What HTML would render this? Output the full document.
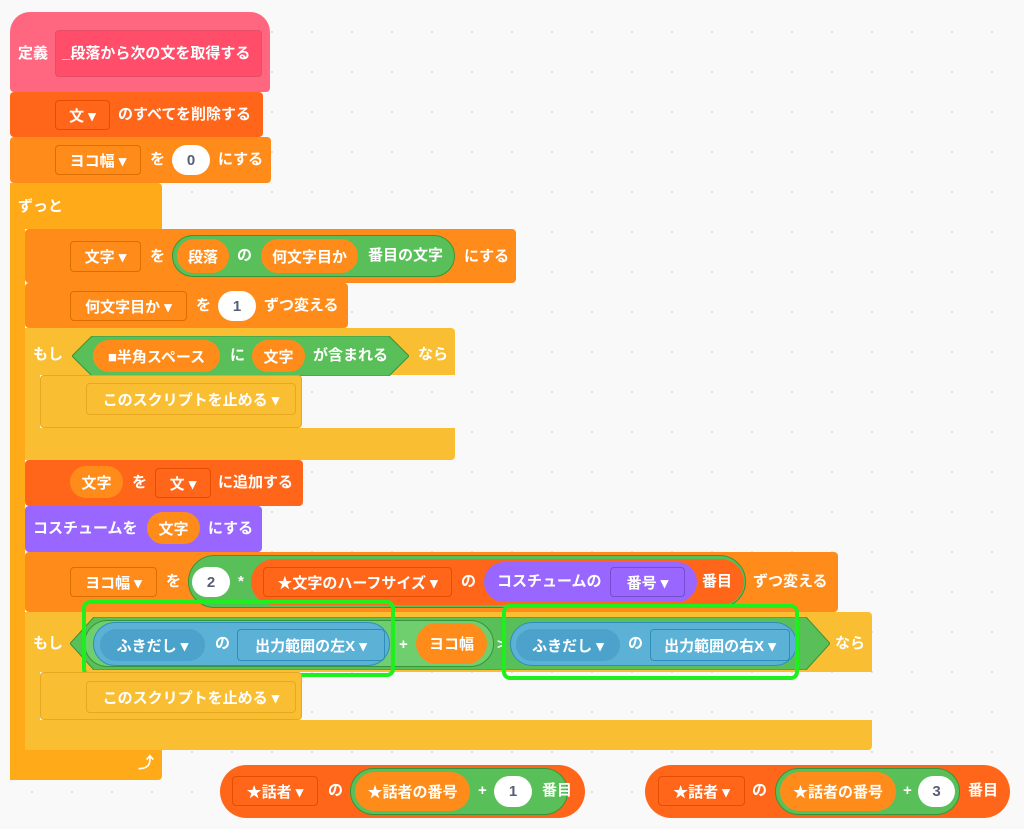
<!DOCTYPE html><html><head><meta charset="utf-8"><style>
body{margin:0;width:1024px;height:829px;overflow:hidden;background:#f9f9f9;background-image:radial-gradient(#dcdcdc 1px,transparent 1.2px);background-size:40px 40px;background-position:12px 12px;position:relative;font-family:"Liberation Sans","Noto Sans CJK JP",sans-serif}
div{position:absolute;box-sizing:border-box}
.t{color:#fff;font-weight:bold;font-size:15px;line-height:18px;white-space:nowrap}
.dd{border-radius:4px;display:flex;align-items:center;justify-content:center;color:#fff;font-weight:bold;font-size:15px;white-space:nowrap}
.ov{background:#fff;border-radius:20px;display:flex;align-items:center;justify-content:center;color:#575e75;font-weight:bold;font-size:15px}
.pill{border-radius:30px;display:flex;align-items:center;justify-content:center;color:#fff;font-weight:bold;font-size:15px;white-space:nowrap}
.hl{border:4px solid #1ef01e;border-radius:8px}
</style></head><body>
<!-- define -->
<div style="left:10px;top:12px;width:260px;height:80px;background:#ff6680;border-radius:20px 20px 4px 4px"></div>
<div style="left:55px;top:30px;width:207px;height:47px;background:#ff4d6a;border-radius:4px;border:1px solid #e64d66"></div>
<div class="t" style="left:18px;top:45px">定義</div>
<div class="t" style="left:62px;top:45px">_段落から次の文を取得する</div>
<!-- delete -->
<div style="left:10px;top:92px;width:253px;height:45px;background:#ff661a;border-radius:4px"></div>
<div class="dd" style="left:55px;top:100px;width:55px;height:30px;border:1px solid #e64d00">文 ▾</div>
<div class="t" style="left:118px;top:106px">のすべてを削除する</div>
<!-- set yoko -->
<div style="left:10px;top:137px;width:261px;height:46px;background:#ff8c1a;border-radius:4px"></div>
<div class="dd" style="left:55px;top:145px;width:86px;height:30px;border:1px solid #db6e00">ヨコ幅 ▾</div>
<div class="t" style="left:150px;top:151px">を</div>
<div class="ov" style="left:172px;top:145px;width:38px;height:30px">0</div>
<div class="t" style="left:218px;top:151px">にする</div>
<!-- forever -->
<div style="left:10px;top:183px;width:152px;height:46px;background:#ffab19;border-radius:4px 4px 0 0"></div>
<div style="left:10px;top:183px;width:15px;height:597px;background:#ffab19"></div>
<div style="left:10px;top:750px;width:152px;height:30px;background:#ffab19;border-radius:0 0 4px 4px"></div>
<div class="t" style="left:18px;top:198px">ずっと</div>
<div class="t" style="left:138px;top:755px;font-size:16px">⤴</div>
<!-- set moji -->
<div style="left:25px;top:229px;width:491px;height:54px;background:#ff8c1a;border-radius:4px"></div>
<div class="dd" style="left:70px;top:241px;width:71px;height:31px;border:1px solid #db6e00">文字 ▾</div>
<div class="t" style="left:150px;top:248px">を</div>
<div class="pill" style="left:172px;top:235px;width:283px;height:42px;background:#59c059;border:1px solid #389438"></div>
<div class="pill" style="left:177px;top:239px;width:52px;height:34px;background:#ff8c1a">段落</div>
<div class="t" style="left:237px;top:247px">の</div>
<div class="pill" style="left:261px;top:239px;width:97px;height:34px;background:#ff8c1a">何文字目か</div>
<div class="t" style="left:368px;top:247px">番目の文字</div>
<div class="t" style="left:464px;top:248px">にする</div>
<!-- change -->
<div style="left:25px;top:283px;width:323px;height:45px;background:#ff8c1a;border-radius:4px"></div>
<div class="dd" style="left:70px;top:291px;width:117px;height:30px;border:1px solid #db6e00">何文字目か ▾</div>
<div class="t" style="left:196px;top:297px">を</div>
<div class="ov" style="left:218px;top:291px;width:38px;height:30px">1</div>
<div class="t" style="left:264px;top:297px">ずつ変える</div>
<!-- if1 -->
<div style="left:25px;top:328px;width:430px;height:47px;background:#fabe32;border-radius:4px 4px 0 0"></div>
<div style="left:25px;top:328px;width:15px;height:132px;background:#fabe32"></div>
<div style="left:25px;top:428px;width:430px;height:32px;background:#fabe32;border-radius:0 0 4px 4px"></div>
<div class="t" style="left:33px;top:346px">もし</div>
<svg style="position:absolute;left:72px;top:336px" width="337" height="40"><polygon points="20,0 317,0 337,20 317,40 20,40 0,20" fill="#59c059" stroke="#389438"/></svg>
<div class="pill" style="left:93px;top:340px;width:127px;height:32px;background:#ff8c1a">■半角スペース</div>
<div class="t" style="left:230px;top:347px">に</div>
<div class="pill" style="left:252px;top:340px;width:53px;height:32px;background:#ff8c1a">文字</div>
<div class="t" style="left:313px;top:347px">が含まれる</div>
<div class="t" style="left:418px;top:346px">なら</div>
<div style="left:40px;top:375px;width:262px;height:53px;background:#fabe32;border:1px solid #e6a820;border-radius:4px"></div>
<div class="dd" style="left:86px;top:383px;width:210px;height:32px;border:1px solid #e6a820">このスクリプトを止める ▾</div>
<!-- add -->
<div style="left:25px;top:460px;width:278px;height:46px;background:#ff661a;border-radius:4px"></div>
<div class="pill" style="left:70px;top:466px;width:53px;height:32px;background:#ff8c1a">文字</div>
<div class="t" style="left:132px;top:474px">を</div>
<div class="dd" style="left:155px;top:468px;width:56px;height:30px;border:1px solid #e64d00">文 ▾</div>
<div class="t" style="left:218px;top:474px">に追加する</div>
<!-- costume -->
<div style="left:25px;top:506px;width:237px;height:46px;background:#9966ff;border-radius:4px"></div>
<div class="t" style="left:33px;top:520px">コスチュームを</div>
<div class="pill" style="left:147px;top:512px;width:53px;height:32px;background:#ff8c1a">文字</div>
<div class="t" style="left:208px;top:520px">にする</div>
<!-- change yoko -->
<div style="left:25px;top:552px;width:813px;height:60px;background:#ff8c1a;border-radius:4px"></div>
<div class="dd" style="left:70px;top:567px;width:87px;height:30px;border:1px solid #db6e00">ヨコ幅 ▾</div>
<div class="t" style="left:166px;top:573px">を</div>
<div class="pill" style="left:188px;top:555px;width:558px;height:53px;background:#59c059;border:1px solid #389438"></div>
<div class="ov" style="left:192px;top:567px;width:38px;height:30px">2</div>
<div class="t" style="left:238px;top:573px">*</div>
<div class="pill" style="left:251px;top:559px;width:493px;height:46px;background:#ff661a"></div>
<div class="dd" style="left:263px;top:567px;width:189px;height:30px;border:1px solid #e64d00">★文字のハーフサイズ ▾</div>
<div class="t" style="left:461px;top:573px">の</div>
<div class="pill" style="left:484px;top:562px;width:213px;height:40px;background:#9966ff"></div>
<div class="t" style="left:497px;top:573px">コスチュームの</div>
<div class="dd" style="left:610px;top:567px;width:75px;height:30px;border:1px solid #774dcb">番号 ▾</div>
<div class="t" style="left:702px;top:573px">番目</div>
<div class="t" style="left:753px;top:573px">ずつ変える</div>
<!-- if2 -->
<div style="left:25px;top:612px;width:847px;height:60px;background:#fabe32;border-radius:4px 4px 0 0"></div>
<div style="left:25px;top:612px;width:15px;height:138px;background:#fabe32"></div>
<div style="left:25px;top:720px;width:847px;height:30px;background:#fabe32;border-radius:0 0 4px 4px"></div>
<div class="t" style="left:33px;top:635px">もし</div>
<svg style="position:absolute;left:70px;top:617px" width="760" height="53"><polygon points="24,0 736,0 760,26.5 736,53 24,53 0,26.5" fill="#59c059" stroke="#389438"/></svg>
<div class="pill" style="left:84px;top:620px;width:410px;height:47px;background:#6fcf6f;border:1px solid #389438"></div>
<div class="pill" style="left:93px;top:622px;width:297px;height:44px;background:#5cb1d6;border:1px solid #2e8eb8"></div>
<div class="pill" style="left:100px;top:629px;width:105px;height:32px;background:#4ba3cb">ふきだし ▾</div>
<div class="t" style="left:215px;top:635px">の</div>
<div class="dd" style="left:237px;top:629px;width:148px;height:32px;border:1px solid #2e8eb8">出力範囲の左X ▾</div>
<div class="t" style="left:399px;top:636px">+</div>
<div class="pill" style="left:416px;top:623px;width:71px;height:41px;background:#ff8c1a">ヨコ幅</div>
<div class="t" style="left:497px;top:636px">&gt;</div>
<div class="pill" style="left:510px;top:622px;width:287px;height:44px;background:#5cb1d6;border:1px solid #2e8eb8"></div>
<div class="pill" style="left:516px;top:629px;width:104px;height:32px;background:#4ba3cb">ふきだし ▾</div>
<div class="t" style="left:628px;top:635px">の</div>
<div class="dd" style="left:650px;top:629px;width:140px;height:32px;border:1px solid #2e8eb8">出力範囲の右X ▾</div>
<div class="t" style="left:835px;top:635px">なら</div>
<div class="hl" style="left:82px;top:600px;width:313px;height:77px"></div>
<div class="hl" style="left:502px;top:604px;width:297px;height:76px"></div>
<div style="left:40px;top:672px;width:262px;height:48px;background:#fabe32;border:1px solid #e6a820;border-radius:4px"></div>
<div class="dd" style="left:86px;top:681px;width:210px;height:32px;border:1px solid #e6a820">このスクリプトを止める ▾</div>
<!-- bottom reporters -->
<div class="pill" style="left:220px;top:765px;width:365px;height:53px;background:#ff661a"></div>
<div class="dd" style="left:232px;top:776px;width:86px;height:30px;border:1px solid #e64d00">★話者 ▾</div>
<div class="t" style="left:328px;top:782px">の</div>
<div class="pill" style="left:350px;top:768px;width:218px;height:47px;background:#59c059;border:1px solid #389438"></div>
<div class="pill" style="left:355px;top:772px;width:115px;height:39px;background:#ff8c1a">★話者の番号</div>
<div class="t" style="left:478px;top:782px">+</div>
<div class="ov" style="left:494px;top:776px;width:38px;height:31px">1</div>
<div class="t" style="left:542px;top:782px">番目</div>
<div class="pill" style="left:645px;top:765px;width:365px;height:53px;background:#ff661a"></div>
<div class="dd" style="left:658px;top:776px;width:87px;height:30px;border:1px solid #e64d00">★話者 ▾</div>
<div class="t" style="left:752px;top:782px">の</div>
<div class="pill" style="left:775px;top:768px;width:185px;height:47px;background:#59c059;border:1px solid #389438"></div>
<div class="pill" style="left:780px;top:772px;width:116px;height:39px;background:#ff8c1a">★話者の番号</div>
<div class="t" style="left:903px;top:782px">+</div>
<div class="ov" style="left:918px;top:776px;width:37px;height:31px">3</div>
<div class="t" style="left:968px;top:782px">番目</div>
</body></html>
